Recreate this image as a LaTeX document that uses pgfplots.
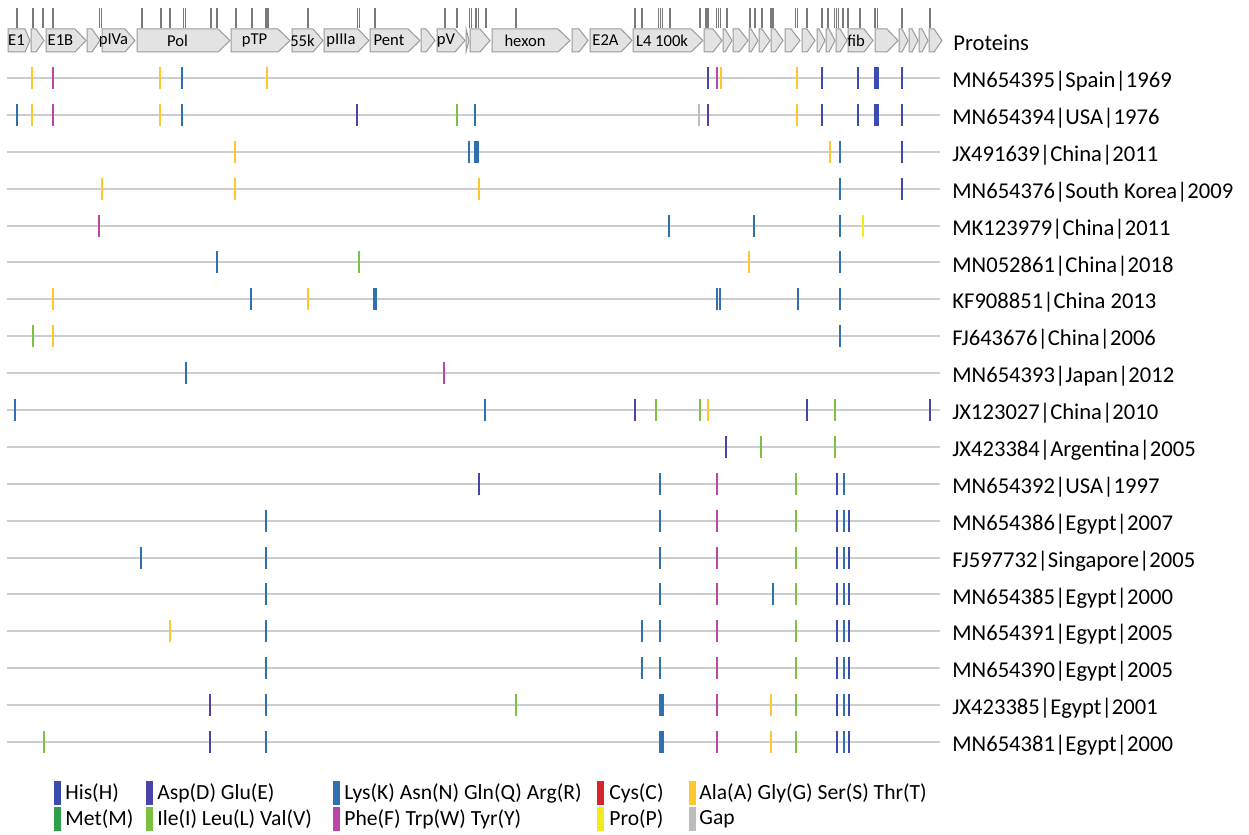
\documentclass[border=0pt]{standalone}
\usepackage{pgfplots}
\usepackage{pgfplotstable}
\pgfplotsset{compat=1.18}
\usepackage{fontspec}
\setmainfont{Carlito}
\definecolor{cH}{HTML}{3B4CB0}
\definecolor{cD}{HTML}{4844A8}
\definecolor{cK}{HTML}{2E70B0}
\definecolor{cC}{HTML}{D7262B}
\definecolor{cA}{HTML}{FFC72C}
\definecolor{cM}{HTML}{2EA04A}
\definecolor{cI}{HTML}{7CC143}
\definecolor{cF}{HTML}{BC45A8}
\definecolor{cP}{HTML}{F4EB1E}
\definecolor{cG}{HTML}{BDBDBD}
\definecolor{rowgray}{HTML}{CCCCCC}
\definecolor{boxfill}{HTML}{E3E3E3}
\definecolor{boxdraw}{HTML}{9A9A9A}
\definecolor{tickgray}{HTML}{7A7A7A}

\newcommand\labfont{\fontsize{11.3bp}{13bp}\selectfont}
\newcommand\legfont{\fontsize{10.8bp}{12bp}\selectfont}
\newcommand\genefont{\fontsize{8.3bp}{9bp}\selectfont}

\tikzset{
  genebox/.style={fill=boxfill, draw=boxdraw, line width=0.5bp},
  genelab/.style={font=\genefont, text=black, inner sep=0pt},
  rowline/.style={draw=rowgray, line width=1bp, mark=none},
  rowlab/.style={anchor=base west, font=\labfont, inner sep=0pt},
  leglab/.style={anchor=west, font=\legfont, inner sep=0pt},
}

% mutation sites: x position (pixels along genome), row number, residue class
\pgfplotstableread{
x r c
32 1 A
53.3 1 F
160 1 A
182.3 1 K
266.7 1 A
707.7 1 D
717 1 F
720.7 1 A
796.7 1 A
821.7 1 H
858 1 H
875 1 H
877.5 1 H
902 1 H
16.7 2 K
32 2 A
53.3 2 F
160 2 A
182.3 2 K
356.7 2 D
456.7 2 I
475.3 2 K
699 2 G
707.7 2 D
796.7 2 A
821.7 2 H
858 2 H
875 2 H
877.5 2 H
902 2 H
235.3 3 A
469.3 3 K
475 3 K
477.5 3 K
829.7 3 A
839.7 3 K
902 3 H
102 4 A
235.3 4 A
478.7 4 A
839.7 4 K
902 4 H
99.3 5 F
669.3 5 K
754 5 K
840 5 K
862.7 5 P
216.7 6 K
358.7 6 I
749.3 6 A
840 6 K
52.7 7 A
251 7 K
308.3 7 A
374.2 7 K
375.6 7 K
717 7 K
719.7 7 K
797.7 7 K
840 7 K
33 8 I
52.7 8 A
840 8 K
186 9 K
444 9 F
15.3 10 K
485 10 K
634.7 10 D
655.7 10 I
700.3 10 I
708 10 A
806.7 10 D
835 10 I
930.3 10 D
725.7 11 D
761.3 11 I
835 11 I
478.7 12 D
660 12 K
716.7 12 F
796 12 I
837 12 H
844 12 K
265.7 13 K
660 13 K
716.7 13 F
796 13 I
837 13 H
844 13 K
849.3 13 H
141.3 14 K
265.7 14 K
660 14 K
716.7 14 F
796 14 I
837 14 H
844 14 K
849.3 14 H
265.7 15 K
660 15 K
716.7 15 F
773.3 15 K
796 15 I
837 15 H
844 15 K
849.3 15 H
170.3 16 A
265.7 16 K
642 16 K
660 16 K
716.7 16 F
796 16 I
837 16 H
844 16 K
849.3 16 H
265.7 17 K
642 17 K
660 17 K
716.7 17 F
796 17 I
837 17 H
844 17 K
849.3 17 H
210.3 18 D
265.7 18 K
516 18 I
660 18 K
662.5 18 K
717 18 F
771 18 A
796 18 I
837 18 H
844 18 K
849.3 18 H
43.7 19 I
210.3 19 D
265.7 19 K
660 19 K
662.5 19 K
717 19 F
771 19 A
796 19 I
837 19 H
844 19 K
849.3 19 H
}\sites

% variable-site comb above the protein map
\pgfplotstableread{
x y
16.7 18
32.7 18
43.3 18
53.3 18
99.5 18
101.5 18
141.7 18
161 18
170 18
183.5 18
185.5 18
210.7 18
216.7 18
236 18
251.7 18
265.7 18
267.7 18
308.3 18
357.5 18
359.5 18
375 18
445 18
457.3 18
469.5 18
471.5 18
476 18
478.5 18
486 18
516 18
635 18
641.7 18
658.5 18
660.5 18
662.5 18
670 18
700 18
706 18
708 18
716.5 18
718.5 18
720.5 18
726.7 18
750 18
755 18
761.7 18
771 18
773 18
795.5 18
797.5 18
806.7 18
821.7 18
828.3 18
834.5 18
836.5 18
838.5 18
843.3 18
848.3 18
860 18
875 18
877.5 18
901.7 18
930 18
}\combtab

% row baselines
\pgfplotstableread{
x r
7 1
940 1
}\rowtab

\newcommand\gene[4]{%
  \pgfmathsetmacro\gb{#2-#3}%
  \pgfmathsetmacro\gm{(#1+\gb)/2}%
  \edef\tmp{\noexpand\addplot[genebox] coordinates {(#1,29) (\gb,29) (#2,40.5) (\gb,52) (#1,52)} --cycle;%
  \noexpand\node[genelab] at (axis cs:\gm,40.5) {\unexpanded{#4}};}%
  \tmp}

\begin{document}
\begin{tikzpicture}
\useasboundingbox (0,0) rectangle (624.5bp,417.5bp);
\fill[white] (0,0) rectangle (624.5bp,417.5bp);
\begin{axis}[
  at={(0,0)}, anchor=south west,
  width=624.5bp, height=417.5bp, scale only axis,
  xmin=0, xmax=1249, ymin=0, ymax=835, y dir=reverse,
  axis lines=none, ticks=none, clip=false,
]
\pgfplotsinvokeforeach{1,...,19}{%
  \addplot[rowline] table[x=x, y expr={78+36.889*(#1-1)}] {\rowtab};
}
% comb of variable sites
\addplot[only marks, mark=|, mark size=5bp, draw=tickgray, mark options={line width=0.9bp, draw=tickgray}]
  table[x=x, y=y] {\combtab};
% protein map
\gene{8}{30}{5}{E1}
\gene{31}{44}{8}{}
\gene{46}{86}{11}{E1B}
\gene{87}{100}{8}{}
\gene{102}{135}{10}{pIVa}
\gene{137}{230}{12}{Pol}
\gene{231}{290}{12}{pTP}
\gene{292}{323}{10}{55k}
\gene{324}{369}{11}{pIIIa}
\gene{370}{420}{12}{Pent}
\gene{421}{435}{9}{}
\gene{437}{465}{10}{pV}
\gene{466}{469}{3}{}
\gene{470}{490}{10}{}
\gene{492}{570}{12}{hexon}
\gene{572}{588}{9}{}
\gene{590}{632}{11}{E2A}
\gene{633}{703}{12}{L4 100k}
\gene{704}{722}{9}{}
\gene{723}{732}{7}{}
\gene{733}{748}{9}{}
\gene{749}{758}{7}{}
\gene{759}{770}{8}{}
\gene{771}{783}{8}{}
\gene{785}{800}{9}{}
\gene{802}{815}{8}{}
\gene{817}{825}{6}{}
\gene{826}{835}{6}{}
\gene{836}{847}{7}{}
\gene{848}{873}{9}{fib}
\gene{875}{898}{11}{}
\gene{899}{908}{6}{}
\gene{909}{918}{6}{}
\gene{919}{928}{6}{}
\gene{929}{942}{8}{}
% mutation sites
\addplot[scatter, only marks, point meta=explicit symbolic,
  scatter/classes={
    H={mark=|, draw=cH, line width=1.1bp},
    D={mark=|, draw=cD, line width=1.1bp},
    K={mark=|, draw=cK, line width=1.1bp},
    C={mark=|, draw=cC, line width=1.1bp},
    A={mark=|, draw=cA, line width=1.1bp},
    M={mark=|, draw=cM, line width=1.1bp},
    I={mark=|, draw=cI, line width=1.1bp},
    F={mark=|, draw=cF, line width=1.1bp},
    P={mark=|, draw=cP, line width=1.1bp},
    G={mark=|, draw=cG, line width=1.1bp}},
  mark size=5.5bp]
  table[x=x, y expr={78+36.889*(\thisrow{r}-1)}, meta=c] {\sites};
% labels
\node[anchor=west, font=\labfont, inner sep=0pt] at (axis cs:953,43) {Proteins};
\node[rowlab] at (axis cs:952,87.6) {MN654395|Spain|1969};
\node[rowlab] at (axis cs:952,124.5) {MN654394|USA|1976};
\node[rowlab] at (axis cs:952,161.4) {JX491639|China|2011};
\node[rowlab] at (axis cs:952,198.3) {MN654376|South Korea|2009};
\node[rowlab] at (axis cs:952,235.2) {MK123979|China|2011};
\node[rowlab] at (axis cs:952,272.0) {MN052861|China|2018};
\node[rowlab] at (axis cs:952,308.9) {KF908851|China 2013};
\node[rowlab] at (axis cs:952,345.8) {FJ643676|China|2006};
\node[rowlab] at (axis cs:952,382.7) {MN654393|Japan|2012};
\node[rowlab] at (axis cs:952,419.6) {JX123027|China|2010};
\node[rowlab] at (axis cs:952,456.5) {JX423384|Argentina|2005};
\node[rowlab] at (axis cs:952,493.4) {MN654392|USA|1997};
\node[rowlab] at (axis cs:952,530.3) {MN654386|Egypt|2007};
\node[rowlab] at (axis cs:952,567.2) {FJ597732|Singapore|2005};
\node[rowlab] at (axis cs:952,604.0) {MN654385|Egypt|2000};
\node[rowlab] at (axis cs:952,640.9) {MN654391|Egypt|2005};
\node[rowlab] at (axis cs:952,677.8) {MN654390|Egypt|2005};
\node[rowlab] at (axis cs:952,714.7) {JX423385|Egypt|2001};
\node[rowlab] at (axis cs:952,751.6) {MN654381|Egypt|2000};
% legend
\fill[cH] (axis cs:54,781) rectangle (axis cs:61,805);
\node[leglab] at (axis cs:65,793) {His(H)};
\fill[cD] (axis cs:146,781) rectangle (axis cs:153,805);
\node[leglab] at (axis cs:157,793) {Asp(D) Glu(E)};
\fill[cK] (axis cs:333,781) rectangle (axis cs:340,805);
\node[leglab] at (axis cs:344,793) {Lys(K) Asn(N) Gln(Q) Arg(R)};
\fill[cC] (axis cs:597,781) rectangle (axis cs:604,805);
\node[leglab] at (axis cs:609,793) {Cys(C)};
\fill[cA] (axis cs:689,781) rectangle (axis cs:696,805);
\node[leglab] at (axis cs:699,793) {Ala(A) Gly(G) Ser(S) Thr(T)};
\fill[cM] (axis cs:54,807) rectangle (axis cs:61,831);
\node[leglab] at (axis cs:65,819) {Met(M)};
\fill[cI] (axis cs:146,807) rectangle (axis cs:153,831);
\node[leglab] at (axis cs:157,819) {Ile(I) Leu(L) Val(V)};
\fill[cF] (axis cs:333,807) rectangle (axis cs:340,831);
\node[leglab] at (axis cs:344,819) {Phe(F) Trp(W) Tyr(Y)};
\fill[cP] (axis cs:597,807) rectangle (axis cs:604,831);
\node[leglab] at (axis cs:609,819) {Pro(P)};
\fill[cG] (axis cs:689,807) rectangle (axis cs:696,831);
\node[leglab] at (axis cs:699,819) {Gap};
\end{axis}
\end{tikzpicture}
\end{document}
